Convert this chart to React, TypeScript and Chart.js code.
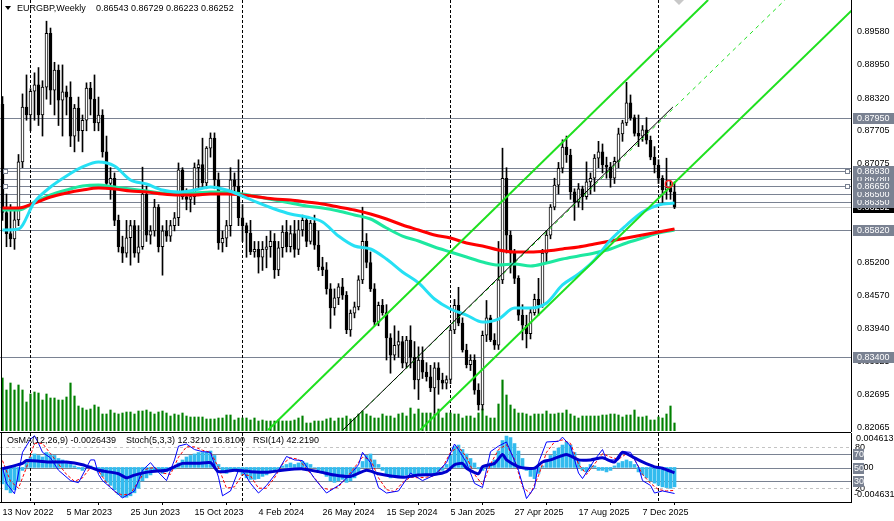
import React, { useEffect, useRef } from 'react';
import { Chart, registerables } from 'chart.js';

Chart.register(...registerables);

const FONT_FAMILY = '"Liberation Sans", Arial, sans-serif';
const CSS_FONT = '9px "Liberation Sans", Arial, sans-serif';

// ---------------- data ----------------
const symbolTitle = 'EURGBP,Weekly';
const lastBarText = '0.86543 0.86729 0.86223 0.86252';
const osmaTitle = 'OsMA(12,26,9) -0.0026439';
const stochTitle = 'Stoch(5,3,3) 12.3210 16.8100';
const rsiTitle = 'RSI(14) 42.2190';

const dateLabels = ['13 Nov 2022', '5 Mar 2023', '25 Jun 2023', '15 Oct 2023', '4 Feb 2024', '26 May 2024', '15 Sep 2024', '5 Jan 2025', '27 Apr 2025', '17 Aug 2025', '7 Dec 2025'];
const dateLabelWeeks = [0, 16, 32, 48, 64, 80, 96, 112, 128, 144, 160];
const yearStartWeeks = [7, 60, 112, 164];

const priceTicks = [0.8958, 0.8895, 0.8832, 0.87705, 0.87075, 0.8645, 0.85825, 0.852, 0.8457, 0.8394, 0.83325, 0.82695, 0.82065];
const priceLevels = [0.8795, 0.87, 0.8693, 0.8678, 0.8665, 0.865, 0.8635, 0.8582, 0.834];
const labelledLevels = [0.8795, 0.8678, 0.8693, 0.8635, 0.865, 0.8665, 0.8582, 0.834];
const anchoredLevels = [0.8693, 0.8665];
const bidPrice = 0.86252;

const opens = [
  0.8820, 0.8615, 0.8575, 0.8565, 0.8601, 0.8711, 0.8815, 0.8800, 0.8845, 0.8857,
  0.8800, 0.8853, 0.8955, 0.8847, 0.8885, 0.8828, 0.8844, 0.8834, 0.8760, 0.8813,
  0.8770, 0.8790, 0.8851, 0.8830, 0.8785, 0.8800, 0.8730, 0.8670, 0.8680, 0.8600,
  0.8550, 0.8538, 0.8567, 0.8590, 0.8538, 0.8550, 0.8650, 0.8572, 0.8580, 0.8625,
  0.8550, 0.8580, 0.8570, 0.8590, 0.8605, 0.8696, 0.8645, 0.8640, 0.8645, 0.8700,
  0.8706, 0.8671, 0.8737, 0.8756, 0.8677, 0.8557, 0.8566, 0.8590, 0.8677, 0.8665,
  0.8605, 0.8590, 0.8576, 0.8540, 0.8545, 0.8530, 0.8545, 0.8550, 0.8560, 0.8506,
  0.8548, 0.8578, 0.8550, 0.8575, 0.8545, 0.8582, 0.8600, 0.8560, 0.8595, 0.8553,
  0.8512, 0.8506, 0.8470, 0.8434, 0.8453, 0.8474, 0.8458, 0.8392, 0.8424, 0.8436,
  0.8487, 0.8560, 0.8520, 0.8470, 0.8407, 0.8439, 0.8425, 0.8377, 0.8344, 0.8363,
  0.8370, 0.8329, 0.8373, 0.8340, 0.8297, 0.8335, 0.8312, 0.8303, 0.8282, 0.8320,
  0.8297, 0.8291, 0.8298, 0.8392, 0.8439, 0.8405, 0.8354, 0.8326, 0.8335, 0.8278,
  0.8250, 0.8382, 0.8415, 0.8373, 0.8363, 0.8487, 0.8680, 0.8572, 0.8538, 0.8490,
  0.8420, 0.8401, 0.8385, 0.8425, 0.8450, 0.8440, 0.8538, 0.8572, 0.8625, 0.8667,
  0.8699, 0.8739, 0.8724, 0.8654, 0.8635, 0.8660, 0.8645, 0.8673, 0.8680, 0.8718,
  0.8730, 0.8705, 0.8701, 0.8680, 0.8712, 0.8764, 0.8785, 0.8823, 0.8795, 0.8765,
  0.8760, 0.8772, 0.8752, 0.8720, 0.8705, 0.8680, 0.8658, 0.8662, 0.86543,
];
const highs = [
  0.8835, 0.8650, 0.8630, 0.8620, 0.8725, 0.8840, 0.8876, 0.8850, 0.8880, 0.8890,
  0.8865, 0.8978, 0.8965, 0.8900, 0.8895, 0.8895, 0.8855, 0.8863, 0.8820, 0.8834,
  0.8800, 0.8861, 0.8862, 0.8876, 0.8834, 0.8810, 0.8760, 0.8700, 0.8690, 0.8610,
  0.8570, 0.8600, 0.8600, 0.8600, 0.8590, 0.8701, 0.8665, 0.8590, 0.8640, 0.8630,
  0.8590, 0.8600, 0.8600, 0.8615, 0.8709, 0.8700, 0.8660, 0.8650, 0.8709, 0.8715,
  0.8756, 0.8740, 0.8766, 0.8766, 0.8690, 0.8580, 0.8600, 0.8700, 0.8690, 0.8715,
  0.8630, 0.8595, 0.8600, 0.8560, 0.8560, 0.8560, 0.8570, 0.8580, 0.8575, 0.8560,
  0.8590, 0.8600, 0.8590, 0.8600, 0.8600, 0.8610, 0.8605, 0.8600, 0.8610, 0.8580,
  0.8530, 0.8520, 0.8480, 0.8470, 0.8480, 0.8490, 0.8465, 0.8430, 0.8445, 0.8495,
  0.8625, 0.8575, 0.8540, 0.8480, 0.8445, 0.8450, 0.8440, 0.8385, 0.8400, 0.8390,
  0.8380, 0.8380, 0.8400, 0.8370, 0.8360, 0.8360, 0.8330, 0.8325, 0.8330, 0.8330,
  0.8310, 0.8305, 0.8400, 0.8450, 0.8473, 0.8415, 0.8365, 0.8345, 0.8345, 0.8290,
  0.8390, 0.8448, 0.8420, 0.8385, 0.8560, 0.8737, 0.8700, 0.8580, 0.8545, 0.8495,
  0.8440, 0.8420, 0.8435, 0.8460, 0.8490, 0.8545, 0.8580, 0.8630, 0.8680, 0.8710,
  0.8753, 0.8760, 0.8735, 0.8660, 0.8670, 0.8665, 0.8711, 0.8690, 0.8725, 0.8750,
  0.8745, 0.8720, 0.8710, 0.8720, 0.8775, 0.8790, 0.8862, 0.8838, 0.8800, 0.8800,
  0.8780, 0.8795, 0.8760, 0.8740, 0.8715, 0.8685, 0.8718, 0.8675, 0.86729,
];
const lows = [
  0.8600, 0.8550, 0.8550, 0.8545, 0.8590, 0.8700, 0.8790, 0.8770, 0.8790, 0.8780,
  0.8760, 0.8830, 0.8820, 0.8800, 0.8780, 0.8760, 0.8800, 0.8740, 0.8730, 0.8750,
  0.8730, 0.8770, 0.8800, 0.8770, 0.8770, 0.8720, 0.8660, 0.8640, 0.8590, 0.8540,
  0.8520, 0.8530, 0.8515, 0.8530, 0.8520, 0.8545, 0.8560, 0.8555, 0.8570, 0.8540,
  0.8496, 0.8560, 0.8560, 0.8580, 0.8590, 0.8640, 0.8620, 0.8616, 0.8630, 0.8660,
  0.8660, 0.8660, 0.8720, 0.8660, 0.8545, 0.8540, 0.8550, 0.8570, 0.8650, 0.8590,
  0.8560, 0.8530, 0.8535, 0.8530, 0.8500, 0.8505, 0.8510, 0.8530, 0.8490, 0.8495,
  0.8530, 0.8540, 0.8540, 0.8530, 0.8535, 0.8570, 0.8550, 0.8555, 0.8545, 0.8505,
  0.8495, 0.8460, 0.8395, 0.8420, 0.8440, 0.8450, 0.8385, 0.8380, 0.8415, 0.8430,
  0.8480, 0.8510, 0.8465, 0.8400, 0.8400, 0.8420, 0.8335, 0.8310, 0.8335, 0.8340,
  0.8320, 0.8320, 0.8320, 0.8280, 0.8260, 0.8300, 0.8295, 0.8275, 0.8234, 0.8270,
  0.8280, 0.8280, 0.8290, 0.8385, 0.8400, 0.8350, 0.8320, 0.8315, 0.8270, 0.8240,
  0.8240, 0.8370, 0.8370, 0.8355, 0.8355, 0.8480, 0.8538, 0.8500, 0.8480, 0.8410,
  0.8373, 0.8358, 0.8375, 0.8420, 0.8420, 0.8435, 0.8520, 0.8565, 0.8620, 0.8650,
  0.8690, 0.8710, 0.8640, 0.8600, 0.8625, 0.8620, 0.8640, 0.8650, 0.8655, 0.8700,
  0.8690, 0.8680, 0.8663, 0.8670, 0.8700, 0.8750, 0.8780, 0.8790, 0.8760, 0.8740,
  0.8750, 0.8745, 0.8715, 0.8690, 0.8670, 0.8632, 0.8640, 0.8640, 0.86223,
];
const closes = [
  0.8615, 0.8575, 0.8565, 0.8601, 0.8711, 0.8815, 0.8800, 0.8845, 0.8857, 0.8800,
  0.8853, 0.8955, 0.8847, 0.8885, 0.8828, 0.8844, 0.8834, 0.8760, 0.8813, 0.8770,
  0.8790, 0.8851, 0.8830, 0.8785, 0.8800, 0.8730, 0.8670, 0.8680, 0.8600, 0.8550,
  0.8538, 0.8567, 0.8590, 0.8538, 0.8550, 0.8650, 0.8572, 0.8580, 0.8625, 0.8550,
  0.8580, 0.8570, 0.8590, 0.8605, 0.8696, 0.8645, 0.8640, 0.8645, 0.8700, 0.8706,
  0.8671, 0.8737, 0.8756, 0.8677, 0.8557, 0.8566, 0.8590, 0.8677, 0.8665, 0.8605,
  0.8590, 0.8576, 0.8540, 0.8545, 0.8530, 0.8545, 0.8550, 0.8560, 0.8506, 0.8548,
  0.8578, 0.8550, 0.8575, 0.8545, 0.8582, 0.8600, 0.8560, 0.8595, 0.8553, 0.8512,
  0.8506, 0.8470, 0.8434, 0.8453, 0.8474, 0.8458, 0.8392, 0.8424, 0.8436, 0.8487,
  0.8560, 0.8520, 0.8470, 0.8407, 0.8439, 0.8425, 0.8377, 0.8344, 0.8363, 0.8370,
  0.8329, 0.8373, 0.8340, 0.8297, 0.8335, 0.8312, 0.8303, 0.8282, 0.8320, 0.8297,
  0.8291, 0.8298, 0.8392, 0.8439, 0.8405, 0.8354, 0.8326, 0.8335, 0.8278, 0.8250,
  0.8382, 0.8415, 0.8373, 0.8363, 0.8487, 0.8680, 0.8572, 0.8538, 0.8490, 0.8420,
  0.8401, 0.8385, 0.8425, 0.8450, 0.8440, 0.8538, 0.8572, 0.8625, 0.8667, 0.8699,
  0.8739, 0.8724, 0.8654, 0.8635, 0.8660, 0.8645, 0.8673, 0.8680, 0.8718, 0.8730,
  0.8705, 0.8701, 0.8680, 0.8712, 0.8764, 0.8785, 0.8823, 0.8795, 0.8765, 0.8760,
  0.8772, 0.8752, 0.8720, 0.8705, 0.8680, 0.8658, 0.8662, 0.8654, 0.86252,
];
// tick volume (thousands)
const tickVolumes = [
  53, 41, 48, 41, 46, 41, 29, 37, 39, 38, 31, 37, 33, 33, 31, 31, 34, 48, 35, 25,
  23, 21, 22, 26, 24, 17, 17, 21, 18, 17, 18, 19, 19, 17, 20, 20, 21, 19, 17, 19,
  20, 18, 15, 17, 16, 18, 15, 14, 14, 14, 14, 12, 12, 12, 13, 13, 16, 16, 11, 13,
  13, 13, 11, 13, 10, 11, 10, 10, 10, 11, 10, 10, 10, 11, 13,
  15, 8, 8, 10, 10, 10, 12, 13, 10, 13, 13, 15, 12, 13, 17, 20, 17, 15, 13, 13,
  17, 15, 15, 13, 17, 18, 15, 23, 17, 22, 18, 18, 18, 17, 22, 13, 18, 18, 17, 17,
  13, 15, 15, 13, 18, 22, 15, 13, 13, 27, 51, 36, 26, 22, 18, 18, 17, 15, 17, 17,
  17, 20, 17, 17, 18, 18, 21, 17, 15, 13, 15, 15, 15, 15, 15,
  16, 16, 17, 17, 16, 14, 16, 16, 21, 14, 14, 15, 11, 11, 14, 13, 17, 25, 8,
];

const maWeeks = [0, 4, 8, 12, 16, 20, 24, 28, 32, 36, 40, 44, 48, 52, 56, 60, 64, 68, 72, 76, 80, 84, 88, 92, 96, 100, 104, 108, 112, 116, 120, 124, 128, 132, 136, 140, 144, 148, 152, 156, 160, 164, 168];
const maFast = [0.85817, 0.85836, 0.86349, 0.86633, 0.86842, 0.87013, 0.87108, 0.87032, 0.86766, 0.8669, 0.86576, 0.86538, 0.86576, 0.86633, 0.86576, 0.86462, 0.8633, 0.86216, 0.86121, 0.86064, 0.85969, 0.85703, 0.85514, 0.85457, 0.85267, 0.8502, 0.84812, 0.84508, 0.84318, 0.84204, 0.84071, 0.84128, 0.84337, 0.84337, 0.84432, 0.84774, 0.84982, 0.85248, 0.85627, 0.85912, 0.86159, 0.86292, 0.8633];
const maMid = [0.86197, 0.86197, 0.86349, 0.86482, 0.86576, 0.86652, 0.86671, 0.86633, 0.86595, 0.86557, 0.86519, 0.86519, 0.86519, 0.86538, 0.86538, 0.865, 0.86444, 0.86387, 0.8633, 0.86273, 0.86235, 0.86178, 0.86102, 0.86026, 0.85855, 0.85703, 0.85609, 0.85495, 0.854, 0.85305, 0.8521, 0.85153, 0.85172, 0.85134, 0.85191, 0.85267, 0.85324, 0.85381, 0.85457, 0.85571, 0.85665, 0.8576, 0.85817];
const maSlow = [0.86235, 0.86235, 0.8633, 0.86444, 0.86519, 0.86576, 0.86614, 0.86595, 0.86557, 0.86538, 0.865, 0.86481, 0.86481, 0.865, 0.865, 0.86481, 0.86444, 0.86406, 0.86387, 0.86349, 0.86311, 0.86254, 0.86197, 0.86121, 0.86026, 0.85912, 0.85817, 0.85722, 0.85665, 0.85571, 0.85514, 0.85438, 0.854, 0.854, 0.85419, 0.85457, 0.85495, 0.85552, 0.85609, 0.85665, 0.85722, 0.85779, 0.85836];

// trend channel anchors (week index, price)
const channelUpper = [[66.4, 0.82022], [176.4, 0.90182]];
const channelLower = [[104.4, 0.82022], [214.9, 0.90174]];
const channelBase = [[85.1, 0.82022], [167.6, 0.88152]];
const channelBaseRay = [[85.1, 0.82022], [195.6, 0.90182]];
const markerPoint = [[166.6, 0.8669]];

const osmaValues = [
  -0.0022, -0.0030, -0.0034, -0.0030, -0.0018, -0.0004, 0.0008, 0.0014, 0.0018, 0.0016,
  0.0014, 0.0020, 0.0018, 0.0016, 0.0012, 0.0010, 0.0008, 0.0004, 0.0002, -0.0002,
  -0.0004, 0.0000, 0.0002, -0.0002, -0.0006, -0.0012, -0.0020, -0.0024, -0.0030, -0.0036,
  -0.0040, -0.0040, -0.0038, -0.0034, -0.0028, -0.0018, -0.0014, -0.0010, -0.0006, -0.0006,
  -0.0008, -0.0006, -0.0004, -0.0002, 0.0006, 0.0010, 0.0014, 0.0016, 0.0018, 0.0020,
  0.0020, 0.0021, 0.0022, 0.0016, 0.0004, -0.0006, -0.0008, -0.0004, -0.0002, -0.0006,
  -0.0010, -0.0014, -0.0016, -0.0016, -0.0015, -0.0012, -0.0010, -0.0006, -0.0006, -0.0002,
  0.0002, 0.0004, 0.0006, 0.0004, 0.0006, 0.0008, 0.0006, 0.0004, 0.0000, -0.0004,
  -0.0008, -0.0012, -0.0018, -0.0020, -0.0018, -0.0016, -0.0020, -0.0018, -0.0014, -0.0006,
  0.0008, 0.0016, 0.0018, 0.0010, 0.0004, -0.0004, -0.0010, -0.0014, -0.0012, -0.0012,
  -0.0013, -0.0010, -0.0009, -0.0012, -0.0011, -0.0010, -0.0010, -0.0008, -0.0008, -0.0006,
  -0.0004, 0.0004, 0.0016, 0.0028, 0.0030, 0.0024, 0.0018, 0.0012, 0.0006, -0.0002,
  -0.0004, 0.0002, 0.0006, 0.0010, 0.0022, 0.0036, 0.0042, 0.0040, 0.0032, 0.0022,
  0.0012, -0.0004, -0.0012, -0.0015, -0.0008, 0.0002, 0.0010, 0.0016, 0.0022, 0.0026,
  0.0030, 0.0034, 0.0030, 0.0020, 0.0008, -0.0004, -0.0006, 0.0004, 0.0002, -0.0004,
  -0.0004, -0.0006, -0.0004, 0.0002, 0.0006, 0.0008, 0.0010, 0.0008, 0.0004, -0.0006,
  -0.0010, -0.0014, -0.0018, -0.0021, -0.0024, -0.0026, -0.0027, -0.0028, -0.0026,
];

const stochMainWeeks = [0, 1, 3, 5, 7, 8, 9, 10, 12, 14, 17, 19, 22, 23, 24, 25, 27, 30, 33, 35, 37, 39, 41, 43, 44, 46, 48, 50, 52, 54, 55, 57, 59, 60, 62, 64, 66, 69, 71, 73, 75, 78, 81, 84, 87, 89, 90, 92, 94, 96, 99, 102, 105, 108, 111, 113, 114, 116, 118, 120, 122, 124, 126, 129, 131, 133, 134, 136, 139, 140, 142, 144, 145, 148, 150, 151, 154, 155, 157, 159, 160, 162, 163, 165, 168];
const stochMainValues = [50, 27, 12, 72, 91, 96, 85, 72, 64, 46, 31, 28, 61, 61, 40, 31, 21, 6, 16, 46, 57, 43, 31, 61, 81, 84, 76, 73, 72, 36, 9, 16, 46, 46, 27, 13, 24, 46, 66, 61, 60, 34, 13, 24, 40, 54, 72, 57, 21, 13, 16, 42, 31, 39, 57, 84, 76, 57, 27, 21, 73, 81, 87, 46, 5, 21, 57, 87, 88, 94, 81, 42, 34, 61, 76, 61, 61, 73, 72, 51, 31, 24, 13, 16, 12.321];
const stochSignalWeeks = [0, 2, 4, 6, 8, 10, 12, 14, 16, 18, 20, 22, 24, 26, 28, 30, 32, 34, 36, 38, 40, 42, 44, 46, 48, 50, 52, 54, 56, 58, 60, 62, 64, 66, 68, 70, 72, 74, 76, 78, 80, 82, 84, 86, 88, 90, 92, 94, 96, 98, 100, 102, 104, 106, 108, 110, 112, 114, 116, 118, 120, 122, 124, 126, 128, 130, 132, 134, 136, 138, 140, 142, 144, 146, 148, 150, 152, 154, 156, 158, 160, 162, 164, 166, 168];
const stochSignalValues = [60, 30, 20, 50, 85, 85, 70, 55, 40, 30, 35, 50, 45, 28, 15, 10, 12, 30, 48, 50, 42, 40, 65, 80, 80, 75, 72, 50, 20, 22, 40, 38, 20, 20, 35, 55, 64, 62, 48, 35, 20, 18, 22, 35, 50, 65, 62, 35, 18, 15, 28, 36, 35, 36, 38, 50, 72, 80, 65, 40, 25, 55, 76, 83, 62, 22, 12, 38, 72, 87, 90, 85, 55, 40, 55, 70, 65, 62, 70, 62, 40, 27, 18, 16, 16.81];
const rsiWeeks = [0, 5, 6, 12, 16, 20, 24, 29, 31, 33, 37, 41, 43, 45, 49, 52, 54, 58, 62, 66, 70, 75, 79, 83, 87, 91, 94, 100, 104, 108, 111, 113, 115, 116, 119, 120, 123, 125, 126, 129, 131, 133, 135, 137, 141, 144, 147, 150, 153, 155, 158, 160, 163, 165, 168];
const rsiValues = [48, 56, 60, 58, 58, 54, 46, 41, 35, 39, 44, 46, 51, 56, 56, 57, 44, 46, 44, 43, 46, 48, 44, 39, 37, 46, 41, 36, 39, 40, 44, 54, 56, 49, 41, 51, 56, 69, 61, 51, 49, 49, 58, 61, 69, 61, 61, 64, 58, 72, 64, 58, 51, 49, 42.219];
const oscDashedLevels = [80, 20];
const oscSolidLevels = [70, 50, 30];
const osmaTop = 0.004613;
const osmaBottom = -0.004631;

// ---------------- layout / style constants ----------------
const PLOT_RIGHT = 851;
const BAR_PX = 4;
const X_MIN = -0.625;
const X_MAX = X_MIN + PLOT_RIGHT / BAR_PX;
const PRICE_MAX = 0.90182;
const PRICE_MIN = 0.82003;
const LEVEL_COLOR = '#7a8292';
const BID_COLOR = '#c4c4c4';
const GREEN = '#1fe01f';

const pts = (xs: number[], ys: number[]) => xs.map((x, k) => ({ x, y: ys[k] }));
const pairPts = (arr: number[][]) => arr.map(([x, y]) => ({ x, y }));

function drawVerticalSeparators(chart: any) {
  const { ctx, chartArea: a, scales } = chart;
  ctx.save();
  ctx.strokeStyle = '#000';
  ctx.lineWidth = 1;
  ctx.setLineDash([3, 2]);
  for (const w of yearStartWeeks) {
    const px = Math.floor(scales.x.getPixelForValue(w)) + 0.5;
    ctx.beginPath();
    ctx.moveTo(px, a.top);
    ctx.lineTo(px, a.bottom);
    ctx.stroke();
  }
  ctx.restore();
}

const topDecor = {
  id: 'topDecor',
  beforeDatasetsDraw(chart: any) {
    const { ctx, chartArea: a, scales } = chart;
    const y = scales.y;
    ctx.save();
    ctx.lineWidth = 1;
    ctx.strokeStyle = LEVEL_COLOR;
    for (const v of priceLevels) {
      const py = Math.round(y.getPixelForValue(v)) + 0.5;
      ctx.beginPath();
      ctx.moveTo(a.left, py);
      ctx.lineTo(a.right, py);
      ctx.stroke();
    }
    ctx.strokeStyle = BID_COLOR;
    const by = Math.round(y.getPixelForValue(bidPrice)) + 0.5;
    ctx.beginPath();
    ctx.moveTo(a.left, by);
    ctx.lineTo(a.right, by);
    ctx.stroke();
    ctx.restore();
    drawVerticalSeparators(chart);
  },
  afterDraw(chart: any) {
    const { ctx, chartArea: a, scales } = chart;
    const y = scales.y;
    ctx.save();
    // left frame
    ctx.strokeStyle = '#000';
    ctx.lineWidth = 1;
    ctx.beginPath();
    ctx.moveTo(1.5, 0);
    ctx.lineTo(1.5, a.bottom);
    ctx.stroke();
    // grey diamond label at top
    ctx.fillStyle = '#c8c8c8';
    ctx.beginPath();
    ctx.moveTo(679, 5);
    ctx.lineTo(685, -1);
    ctx.lineTo(679, -7);
    ctx.lineTo(673, -1);
    ctx.closePath();
    ctx.fill();
    // anchor squares
    ctx.fillStyle = '#fff';
    ctx.strokeStyle = LEVEL_COLOR;
    for (const v of anchoredLevels) {
      const py = Math.round(y.getPixelForValue(v));
      ctx.fillRect(3, py - 2, 5, 5);
      ctx.strokeRect(3.5, py - 1.5, 4, 4);
      ctx.fillRect(845, py - 2, 5, 5);
      ctx.strokeRect(845.5, py - 1.5, 4, 4);
    }
    // title
    ctx.fillStyle = '#000';
    ctx.beginPath();
    ctx.moveTo(5, 6);
    ctx.lineTo(11, 6);
    ctx.lineTo(8, 10);
    ctx.closePath();
    ctx.fill();
    ctx.font = CSS_FONT;
    ctx.textBaseline = 'middle';
    ctx.textAlign = 'left';
    ctx.fillText(symbolTitle, 17, 8.5);
    ctx.fillText(lastBarText, 96, 8.5);
    // price boxes on the axis
    const box = (v: number, bg: string) => {
      const py = Math.round(y.getPixelForValue(v));
      ctx.fillStyle = bg;
      ctx.fillRect(853, py - 5, 41, 11);
      ctx.fillStyle = '#fff';
      ctx.fillText(v.toFixed(5), 857, py + 0.5);
    };
    box(bidPrice, '#000');
    for (const v of labelledLevels) box(v, LEVEL_COLOR);
    ctx.restore();
  },
};

const oscDecor = {
  id: 'oscDecor',
  beforeDatasetsDraw(chart: any) {
    const { ctx, chartArea: a, scales } = chart;
    const yo = scales.yOsc;
    ctx.save();
    ctx.lineWidth = 1;
    ctx.strokeStyle = '#c4c4c4';
    ctx.setLineDash([3, 3]);
    for (const lv of oscDashedLevels) {
      const py = Math.round(yo.getPixelForValue(lv)) + 0.5;
      ctx.beginPath();
      ctx.moveTo(a.left, py);
      ctx.lineTo(a.right, py);
      ctx.stroke();
    }
    ctx.setLineDash([]);
    ctx.strokeStyle = LEVEL_COLOR;
    for (const lv of oscSolidLevels) {
      const py = Math.round(yo.getPixelForValue(lv)) + 0.5;
      ctx.beginPath();
      ctx.moveTo(a.left, py);
      ctx.lineTo(a.right, py);
      ctx.stroke();
    }
    ctx.restore();
    drawVerticalSeparators(chart);
  },
  afterDraw(chart: any) {
    const { ctx, chartArea: a, scales } = chart;
    const yo = scales.yOsc;
    ctx.save();
    ctx.strokeStyle = '#000';
    ctx.lineWidth = 1;
    ctx.beginPath();
    ctx.moveTo(0, 0.5);
    ctx.lineTo(PLOT_RIGHT, 0.5);
    ctx.moveTo(1.5, 0);
    ctx.lineTo(1.5, a.bottom);
    ctx.stroke();
    ctx.font = CSS_FONT;
    ctx.textBaseline = 'middle';
    ctx.textAlign = 'left';
    ctx.fillStyle = '#000';
    ctx.fillText(osmaTitle, 7, 9);
    ctx.fillText(stochTitle, 126, 9);
    ctx.fillText(rsiTitle, 253, 9);
    ctx.fillText(osmaTop.toFixed(6), 856, 6.5);
    ctx.fillText(osmaBottom.toFixed(6), 854, 63);
    for (const lv of oscDashedLevels) ctx.fillText(String(lv), 855, yo.getPixelForValue(lv) + 0.5);
    ctx.fillText('0.00', 856, yo.getPixelForValue(50) + 0.5);
    for (const lv of oscSolidLevels) {
      const py = Math.round(yo.getPixelForValue(lv));
      ctx.fillStyle = LEVEL_COLOR;
      ctx.fillRect(853, py - 5, 11, 11);
      ctx.fillStyle = '#fff';
      ctx.fillText(String(lv), 854, py + 0.5);
    }
    ctx.restore();
  },
};

const baseOptions = {
  responsive: false,
  animation: false as const,
  devicePixelRatio: 1,
  events: [] as any[],
  plugins: { legend: { display: false }, tooltip: { enabled: false }, title: { display: false } },
};

function topConfig(): any {
  const idx = closes.map((_, i) => i);
  return {
    type: 'bar',
    data: {
      datasets: [
        { type: 'line', order: 0, data: pairPts(markerPoint), showLine: false, pointRadius: 3.5, pointBorderWidth: 1.5, pointBorderColor: '#ff2020', pointBackgroundColor: 'rgba(0,0,0,0)', yAxisID: 'y' },
        { type: 'line', order: 1, data: pairPts(channelUpper), borderColor: GREEN, borderWidth: 2, pointRadius: 0, yAxisID: 'y' },
        { type: 'line', order: 1, data: pairPts(channelLower), borderColor: GREEN, borderWidth: 2, pointRadius: 0, yAxisID: 'y' },
        { type: 'line', order: 1, data: pairPts(channelBase), borderColor: '#000', borderWidth: 1, pointRadius: 0, yAxisID: 'y' },
        { type: 'line', order: 2, data: pairPts(channelBaseRay), borderColor: GREEN, borderWidth: 1, borderDash: [4, 4], pointRadius: 0, yAxisID: 'y' },
        { type: 'line', order: 3, data: pts(maWeeks, maFast), borderColor: '#26e0f4', borderWidth: 3, pointRadius: 0, cubicInterpolationMode: 'monotone', yAxisID: 'y' },
        { type: 'line', order: 4, data: pts(maWeeks, maSlow), borderColor: '#ff0000', borderWidth: 3, pointRadius: 0, cubicInterpolationMode: 'monotone', yAxisID: 'y' },
        { type: 'line', order: 5, data: pts(maWeeks, maMid), borderColor: '#1de8a0', borderWidth: 3, pointRadius: 0, cubicInterpolationMode: 'monotone', yAxisID: 'y' },
        {
          type: 'bar', order: 6, grouped: false, yAxisID: 'y',
          data: idx.map(i => ({ x: i, y: [opens[i], closes[i]] })),
          backgroundColor: idx.map(i => (closes[i] >= opens[i] ? '#ffffff' : '#000000')),
          borderColor: '#000', borderWidth: 1, borderSkipped: false, barThickness: 3, minBarLength: 1,
        },
        {
          type: 'bar', order: 7, grouped: false, yAxisID: 'y',
          data: idx.map(i => ({ x: i, y: [lows[i], highs[i]] })),
          backgroundColor: '#000', barThickness: 1, minBarLength: 1,
        },
        {
          type: 'bar', order: 8, grouped: false, yAxisID: 'yVol',
          data: idx.map(i => ({ x: i, y: tickVolumes[i] })),
          backgroundColor: '#008000', barThickness: 1.5,
        },
      ],
    },
    options: {
      ...baseOptions,
      layout: { padding: { top: 0, left: 0, right: 0, bottom: 1 }, autoPadding: false },
      scales: {
        x: { type: 'linear', min: X_MIN, max: X_MAX, display: false, offset: false },
        y: {
          type: 'linear', position: 'right', min: PRICE_MIN, max: PRICE_MAX,
          afterBuildTicks: (s: any) => { s.ticks = priceTicks.map(v => ({ value: v })); },
          afterFit: (s: any) => { s.width = 894 - PLOT_RIGHT; s.paddingTop = 0; s.paddingBottom = 0; },
          ticks: { autoSkip: false, color: '#000', padding: 6, font: { family: FONT_FAMILY, size: 9 }, callback: (v: any) => Number(v).toFixed(5) },
          grid: { display: false, drawTicks: false },
          border: { display: true, color: '#000', width: 1 },
        },
        yVol: { type: 'linear', display: false, min: 0, max: 431 },
      },
    },
    plugins: [topDecor],
  };
}

function oscConfig(): any {
  const idx = osmaValues.map((_, i) => i);
  return {
    type: 'bar',
    data: {
      datasets: [
        { type: 'line', order: 0, data: pts(rsiWeeks, rsiValues), borderColor: '#0000cd', borderWidth: 3, pointRadius: 0, tension: 0.2, yAxisID: 'yOsc' },
        { type: 'line', order: 1, data: pts(stochMainWeeks, stochMainValues), borderColor: '#0000ff', borderWidth: 1, pointRadius: 0, tension: 0, yAxisID: 'yOsc' },
        { type: 'line', order: 2, data: pts(stochSignalWeeks, stochSignalValues), borderColor: '#ff0000', borderWidth: 1, borderDash: [3, 2], pointRadius: 0, tension: 0, yAxisID: 'yOsc' },
        {
          type: 'bar', order: 3, grouped: false, yAxisID: 'yOsma',
          data: idx.map(i => ({ x: i, y: osmaValues[i] })),
          backgroundColor: '#33bbee', barThickness: 3,
        },
      ],
    },
    options: {
      ...baseOptions,
      layout: { padding: { top: 1, left: 0, right: 0, bottom: 0 }, autoPadding: false },
      scales: {
        x: {
          type: 'linear', min: X_MIN, max: X_MAX, position: 'bottom', offset: false,
          afterBuildTicks: (s: any) => { s.ticks = dateLabelWeeks.map(v => ({ value: v })); },
          afterFit: (s: any) => { s.height = 19; s.paddingLeft = 0; s.paddingRight = 0; },
          ticks: { align: 'start', autoSkip: false, maxRotation: 0, minRotation: 0, padding: 2, color: '#000', font: { family: FONT_FAMILY, size: 9 }, callback: (_v: any, i: number) => dateLabels[i] },
          grid: { display: true, drawOnChartArea: false, drawTicks: true, tickLength: 3, color: '#000' },
          border: { display: true, color: '#000', width: 1 },
        },
        yOsc: { type: 'linear', display: false, min: 0, max: 100 },
        yOsma: {
          type: 'linear', position: 'right', min: osmaBottom, max: osmaTop,
          afterFit: (s: any) => { s.width = 894 - PLOT_RIGHT; s.paddingTop = 0; s.paddingBottom = 0; },
          ticks: { display: false },
          grid: { display: false, drawTicks: false },
          border: { display: true, color: '#000', width: 1 },
        },
      },
    },
    plugins: [oscDecor],
  };
}

export default function App() {
  const topRef = useRef<HTMLCanvasElement>(null);
  const oscRef = useRef<HTMLCanvasElement>(null);
  useEffect(() => {
    document.body.style.margin = '0';
    const top = new Chart(topRef.current as HTMLCanvasElement, topConfig());
    const osc = new Chart(oscRef.current as HTMLCanvasElement, oscConfig());
    return () => {
      top.destroy();
      osc.destroy();
    };
  }, []);
  return (
    <div style={{ position: 'absolute', left: 0, top: 0, width: 894, height: 521, background: '#fff' }}>
      <canvas ref={topRef} width={894} height={432} style={{ display: 'block', width: 894, height: 432 }} />
      <canvas ref={oscRef} width={894} height={89} style={{ display: 'block', width: 894, height: 89 }} />
    </div>
  );
}
